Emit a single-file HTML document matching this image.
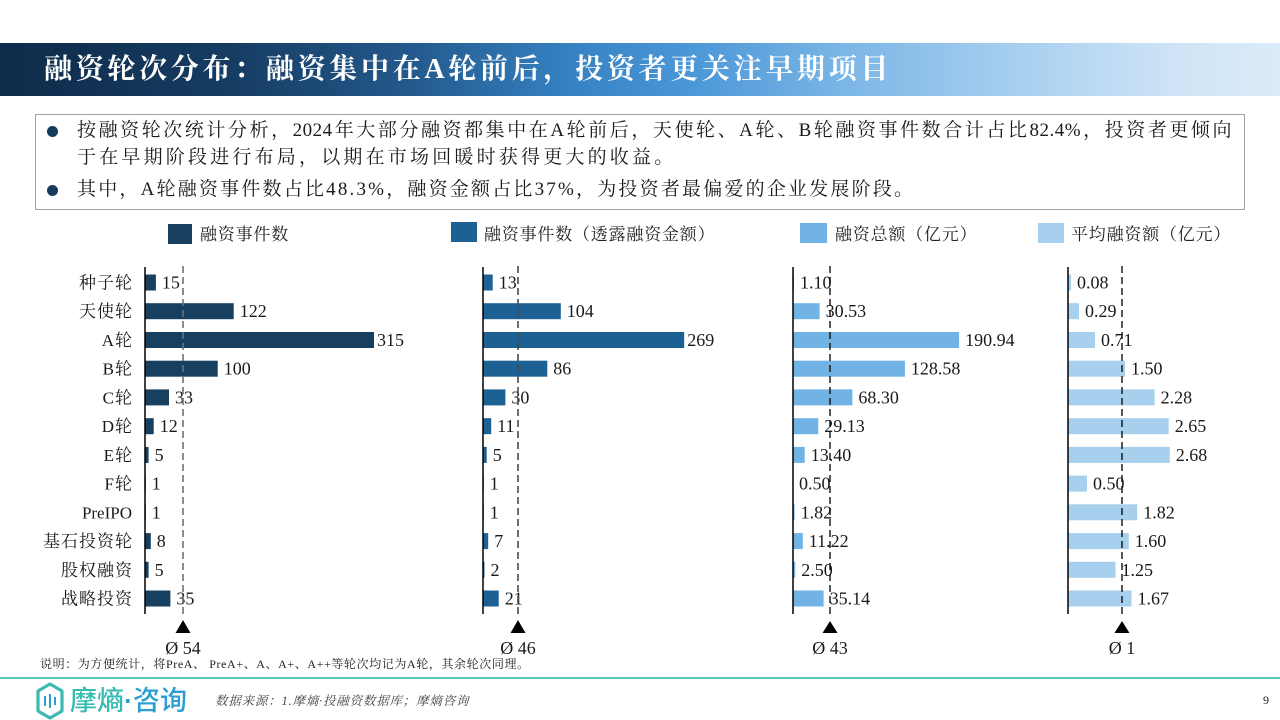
<!DOCTYPE html>
<html lang="zh-CN">
<head>
<meta charset="utf-8">
<style>
  html,body{margin:0;padding:0;}
  body{width:1280px;height:720px;overflow:hidden;background:#fff;position:relative;
       font-family:"Liberation Serif","Noto Serif CJK SC",serif;color:#1a1a1a;}
  .banner{position:absolute;left:0;top:43px;width:1280px;height:53px;
    background:linear-gradient(90deg,#0e2b4a 0%,#163c62 18%,#23598c 32%,#3580c0 44%,#4b97d7 54%,#7bb6e6 66%,#a9d0f0 80%,#cfe4f6 92%,#dcebf8 100%);}
  .title{position:absolute;left:44px;top:43px;height:53px;line-height:53px;font-size:28px;font-weight:bold;
    color:#fff;letter-spacing:3.7px;white-space:nowrap;font-family:"Liberation Serif","Noto Serif CJK SC",serif;}
  .box{position:absolute;left:35px;top:114px;width:1210px;height:96px;box-sizing:border-box;border:1px solid #a3a3a3;}
  .dot{position:absolute;width:11px;height:11px;border-radius:50%;background:#163a5c;}
  .ln{position:absolute;left:77px;font-size:19px;line-height:24px;white-space:nowrap;color:#1a1a1a;}
  .l1{width:1155px;text-align:justify;text-align-last:justify;letter-spacing:0.5px;}
  .l2{letter-spacing:3.2px;}
  .l3{letter-spacing:2.2px;}
  svg{position:absolute;left:0;top:0;}
</style>
</head>
<body>
<div class="banner"></div>
<div class="title">融资轮次分布：融资集中在A轮前后，投资者更关注早期项目</div>

<div class="box"></div>
<div class="dot" style="left:47px;top:126px;"></div>
<div class="dot" style="left:47px;top:185px;"></div>
<div class="ln l1" style="top:119px;">按融资轮次统计分析，2024年大部分融资都集中在A轮前后，天使轮、A轮、B轮融资事件数合计占比82.4%，投资者更倾向</div>
<div class="ln l2" style="top:146px;">于在早期阶段进行布局，以期在市场回暖时获得更大的收益。</div>
<div class="ln l3" style="top:178px;">其中，A轮融资事件数占比48.3%，融资金额占比37%，为投资者最偏爱的企业发展阶段。</div>

<svg width="1280" height="720" viewBox="0 0 1280 720" xmlns="http://www.w3.org/2000/svg"
     font-family="Liberation Serif, Noto Serif CJK SC, serif">
  <!-- Legend -->
  <g font-size="17" fill="#222" letter-spacing="0.8">
    <rect x="168" y="224" width="24" height="20" fill="#173f60"/>
    <text x="200" y="240">融资事件数</text>
    <rect x="451" y="222" width="26" height="20" fill="#1d6194"/>
    <text x="484" y="240">融资事件数（透露融资金额）</text>
    <rect x="800" y="223" width="27" height="20" fill="#71b3e4"/>
    <text x="835" y="240">融资总额（亿元）</text>
    <rect x="1038" y="223" width="26" height="20" fill="#a7cfee"/>
    <text x="1071" y="240">平均融资额（亿元）</text>
  </g>

  <!-- Category labels -->
  <g font-size="17" fill="#1a1a1a" text-anchor="end" letter-spacing="1">
    <text x="133" y="288.5">种子轮</text>
    <text x="133" y="317.2">天使轮</text>
    <text x="133" y="346">A轮</text>
    <text x="133" y="374.7">B轮</text>
    <text x="133" y="403.4">C轮</text>
    <text x="133" y="432.2">D轮</text>
    <text x="133" y="460.9">E轮</text>
    <text x="133" y="489.6">F轮</text>
    <text x="132" y="518.3" letter-spacing="0">PreIPO</text>
    <text x="133" y="547.1">基石投资轮</text>
    <text x="133" y="575.8">股权融资</text>
    <text x="133" y="604.5">战略投资</text>
  </g>

  <!-- Chart 1 -->
  <g fill="#173f60">
    <rect x="145" y="274.5" width="10.9" height="16"/>
    <rect x="145" y="303.2" width="88.7" height="16"/>
    <rect x="145" y="332" width="229" height="16"/>
    <rect x="145" y="360.7" width="72.7" height="16"/>
    <rect x="145" y="389.4" width="24" height="16"/>
    <rect x="145" y="418.2" width="8.7" height="16"/>
    <rect x="145" y="446.9" width="3.6" height="16"/>
    <rect x="145" y="475.6" width="0.8" height="16"/>
    <rect x="145" y="504.3" width="0.8" height="16"/>
    <rect x="145" y="533.1" width="5.8" height="16"/>
    <rect x="145" y="561.8" width="3.6" height="16"/>
    <rect x="145" y="590.5" width="25.4" height="16"/>
  </g>
  <g font-size="18" fill="#1a1a1a">
    <text x="161.9" y="288.5">15</text>
    <text x="239.7" y="317.2">122</text>
    <text x="377" y="346">315</text>
    <text x="223.7" y="374.7">100</text>
    <text x="175" y="403.4">33</text>
    <text x="159.7" y="432.2">12</text>
    <text x="154.6" y="460.9">5</text>
    <text x="151.8" y="489.6">1</text>
    <text x="151.8" y="518.3">1</text>
    <text x="156.8" y="547.1">8</text>
    <text x="154.6" y="575.8">5</text>
    <text x="176.4" y="604.5">35</text>
  </g>
  <line x1="145" y1="267" x2="145" y2="614" stroke="#000" stroke-width="1.5"/>
  <line x1="183" y1="266" x2="183" y2="616" stroke="#707070" stroke-width="1.6" stroke-dasharray="7 4"/>
  <polygon points="183,620 175.5,633 190.5,633" fill="#000"/>
  <text x="183" y="654" font-size="18" text-anchor="middle" fill="#1a1a1a">Ø 54</text>

  <!-- Chart 2 -->
  <g fill="#1d6194">
    <rect x="483" y="274.5" width="9.7" height="16"/>
    <rect x="483" y="303.2" width="77.8" height="16"/>
    <rect x="483" y="332" width="201.2" height="16"/>
    <rect x="483" y="360.7" width="64.3" height="16"/>
    <rect x="483" y="389.4" width="22.4" height="16"/>
    <rect x="483" y="418.2" width="8.2" height="16"/>
    <rect x="483" y="446.9" width="3.7" height="16"/>
    <rect x="483" y="475.6" width="0.8" height="16"/>
    <rect x="483" y="504.3" width="0.8" height="16"/>
    <rect x="483" y="533.1" width="5.2" height="16"/>
    <rect x="483" y="561.8" width="1.5" height="16"/>
    <rect x="483" y="590.5" width="15.7" height="16"/>
  </g>
  <g font-size="18" fill="#1a1a1a">
    <text x="498.7" y="288.5">13</text>
    <text x="566.8" y="317.2">104</text>
    <text x="687.2" y="346">269</text>
    <text x="553.3" y="374.7">86</text>
    <text x="511.4" y="403.4">30</text>
    <text x="497.2" y="432.2">11</text>
    <text x="492.7" y="460.9">5</text>
    <text x="489.8" y="489.6">1</text>
    <text x="489.8" y="518.3">1</text>
    <text x="494.2" y="547.1">7</text>
    <text x="490.5" y="575.8">2</text>
    <text x="504.7" y="604.5">21</text>
  </g>
  <line x1="483" y1="267" x2="483" y2="614" stroke="#000" stroke-width="1.5"/>
  <line x1="518" y1="266" x2="518" y2="616" stroke="#4a4a4a" stroke-width="1.6" stroke-dasharray="7 4"/>
  <polygon points="518,620 510.5,633 525.5,633" fill="#000"/>
  <text x="518" y="654" font-size="18" text-anchor="middle" fill="#1a1a1a">Ø 46</text>

  <!-- Chart 3 -->
  <g fill="#71b3e4">
    <rect x="793" y="274.5" width="1" height="16"/>
    <rect x="793" y="303.2" width="26.6" height="16"/>
    <rect x="793" y="332" width="166.1" height="16"/>
    <rect x="793" y="360.7" width="111.9" height="16"/>
    <rect x="793" y="389.4" width="59.4" height="16"/>
    <rect x="793" y="418.2" width="25.3" height="16"/>
    <rect x="793" y="446.9" width="11.7" height="16"/>
    <rect x="793" y="475.6" width="0.5" height="16"/>
    <rect x="793" y="504.3" width="1.6" height="16"/>
    <rect x="793" y="533.1" width="9.8" height="16"/>
    <rect x="793" y="561.8" width="2.2" height="16"/>
    <rect x="793" y="590.5" width="30.6" height="16"/>
  </g>
  <g font-size="18" fill="#1a1a1a">
    <text x="800" y="288.5">1.10</text>
    <text x="825.6" y="317.2">30.53</text>
    <text x="965.1" y="346">190.94</text>
    <text x="910.9" y="374.7">128.58</text>
    <text x="858.4" y="403.4">68.30</text>
    <text x="824.3" y="432.2">29.13</text>
    <text x="810.7" y="460.9">13.40</text>
    <text x="799" y="489.6">0.50</text>
    <text x="800.6" y="518.3">1.82</text>
    <text x="808.8" y="547.1">11.22</text>
    <text x="801.2" y="575.8">2.50</text>
    <text x="829.6" y="604.5">35.14</text>
  </g>
  <line x1="793" y1="267" x2="793" y2="614" stroke="#000" stroke-width="1.5"/>
  <line x1="830" y1="266" x2="830" y2="616" stroke="#111" stroke-width="1.4" stroke-dasharray="7 4"/>
  <polygon points="830,621 822.5,633 837.5,633" fill="#000"/>
  <text x="830" y="654" font-size="18" text-anchor="middle" fill="#1a1a1a">Ø 43</text>

  <!-- Chart 4 -->
  <g fill="#a7cfee">
    <rect x="1068" y="274.5" width="3" height="16"/>
    <rect x="1068" y="303.2" width="11" height="16"/>
    <rect x="1068" y="332" width="27" height="16"/>
    <rect x="1068" y="360.7" width="57" height="16"/>
    <rect x="1068" y="389.4" width="86.6" height="16"/>
    <rect x="1068" y="418.2" width="100.7" height="16"/>
    <rect x="1068" y="446.9" width="101.8" height="16"/>
    <rect x="1068" y="475.6" width="19" height="16"/>
    <rect x="1068" y="504.3" width="69.2" height="16"/>
    <rect x="1068" y="533.1" width="60.8" height="16"/>
    <rect x="1068" y="561.8" width="47.5" height="16"/>
    <rect x="1068" y="590.5" width="63.5" height="16"/>
  </g>
  <g font-size="18" fill="#1a1a1a">
    <text x="1077" y="288.5">0.08</text>
    <text x="1085" y="317.2">0.29</text>
    <text x="1101" y="346">0.71</text>
    <text x="1131" y="374.7">1.50</text>
    <text x="1160.6" y="403.4">2.28</text>
    <text x="1174.7" y="432.2">2.65</text>
    <text x="1175.8" y="460.9">2.68</text>
    <text x="1093" y="489.6">0.50</text>
    <text x="1143.2" y="518.3">1.82</text>
    <text x="1134.8" y="547.1">1.60</text>
    <text x="1121.5" y="575.8">1.25</text>
    <text x="1137.5" y="604.5">1.67</text>
  </g>
  <line x1="1068" y1="267" x2="1068" y2="614" stroke="#000" stroke-width="1.5"/>
  <line x1="1122" y1="266" x2="1122" y2="616" stroke="#111" stroke-width="1.4" stroke-dasharray="7 4"/>
  <polygon points="1122,621 1114.5,633 1129.5,633" fill="#000"/>
  <text x="1122" y="654" font-size="18" text-anchor="middle" fill="#1a1a1a">Ø 1</text>

  <!-- Note -->
  <text x="40" y="668" font-size="12" fill="#222" letter-spacing="0.6">说明：为方便统计，将PreA、 PreA+、A、A+、A++等轮次均记为A轮，其余轮次同理。</text>

  <!-- Footer -->
  <line x1="0" y1="678" x2="1280" y2="678" stroke="#56c8bd" stroke-width="2"/>
  <g>
    <path d="M50,684 L62,691 L62,711 L50,718 L38,711 L38,691 Z" fill="none" stroke="#3cb9b2" stroke-width="3.2" stroke-linejoin="round"/>
    <line x1="45" y1="696" x2="45" y2="706" stroke="#2e9fd4" stroke-width="2"/>
    <line x1="50" y1="694" x2="50" y2="708" stroke="#2e9fd4" stroke-width="2"/>
    <line x1="55" y1="697" x2="55" y2="705" stroke="#2e9fd4" stroke-width="2"/>
  </g>
  <text x="70" y="710" font-size="27" font-family="Noto Sans CJK SC, sans-serif" font-weight="500"><tspan fill="#35bbb0">摩熵</tspan><tspan fill="#2e9fd4" font-family="Liberation Sans, sans-serif" font-weight="bold">·</tspan><tspan fill="#2e9fd4">咨询</tspan></text>
  <text x="215" y="705" font-size="12.5" fill="#444" font-style="italic" letter-spacing="0.8">数据来源：1.摩熵·投融资数据库；摩熵咨询</text>
  <text x="1263" y="704" font-size="12" fill="#222">9</text>
</svg>
</body>
</html>
